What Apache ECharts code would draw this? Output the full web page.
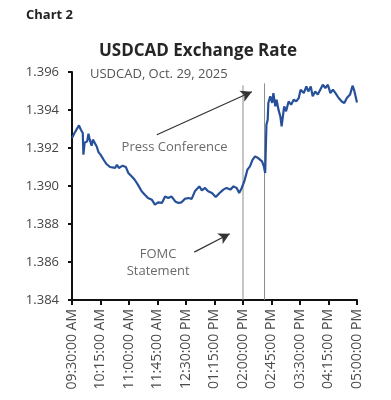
<!DOCTYPE html>
<html><head><meta charset="utf-8">
<script src="https://cdn.jsdelivr.net/npm/echarts@6/dist/echarts.min.js"></script>
<style>html,body{margin:0;padding:0;background:#fff}#c{width:391px;height:400px}</style>
</head><body><div id="c"></div>
<script>
// minutes after 09:30 AM
const times = [0,4,11,14,17,18,20,24,26,28,31,33,36,39,42,45,50,54,60,68,71,74,80,85,89,94,99,104,110,115,120,126,131,136,142,147,152,157,163,168,173,178,184,189,194,201,205,210,215,221,227,233,239,244,250,255,260,264,268,272,277,281,285,289,294,300,303,305,307,309,310,313,316,318,321,323,326,329,331,335,338,342,346,350,354,358,361,366,370,373,377,380,384,388,392,396,400,404,408,412,416,421,426,430,434,439,443,446,449,450];
const rates = [1.39253,1.39279,1.39319,1.39296,1.39279,1.39165,1.39228,1.39235,1.39275,1.39244,1.39212,1.39244,1.39235,1.39208,1.39177,1.39165,1.39138,1.39117,1.39100,1.39095,1.39112,1.39095,1.39107,1.39100,1.39068,1.39051,1.39033,1.39007,1.38972,1.38954,1.38937,1.38928,1.38902,1.38914,1.38911,1.38945,1.38937,1.38945,1.38919,1.38911,1.38914,1.38932,1.38937,1.38932,1.38972,1.38998,1.38977,1.38990,1.38972,1.38963,1.38942,1.38963,1.38981,1.38990,1.38981,1.38998,1.38990,1.38963,1.38990,1.39024,1.39086,1.39103,1.39138,1.39156,1.39147,1.39130,1.39103,1.39068,1.39323,1.39349,1.39437,1.39472,1.39437,1.39489,1.39419,1.39454,1.39402,1.39366,1.39314,1.39419,1.39393,1.39445,1.39428,1.39454,1.39445,1.39463,1.39507,1.39489,1.39524,1.39498,1.39524,1.39472,1.39498,1.39481,1.39507,1.39533,1.39516,1.39533,1.39489,1.39507,1.39489,1.39463,1.39445,1.39437,1.39463,1.39481,1.39528,1.39498,1.39489,1.39440];
const tickLabels = ['09:30:00 AM','10:15:00 AM','11:00:00 AM','11:45:00 AM','12:30:00 PM','01:15:00 PM','02:00:00 PM','02:45:00 PM','03:30:00 PM','04:15:00 PM','05:00:00 PM'];
const eventTimes = [270, 304];          // FOMC statement, press conference
const eventTops = [1.3953, 1.3954];
const pressArrow = [[134, 1.3927], [284, 1.39496]];
const fomcArrow = [[193, 1.38652], [249, 1.38749]];
const pressLabelPos = [162, 1.39202];
const fomcLabelPos = [136, 1.38595];

const FONT = 'Open Sans';
const chart = echarts.init(document.getElementById('c'));
const vlineSeries = eventTimes.map((t, i) => ({
  type: 'line', data: [[t, eventTops[i]], [t, 1.384]], symbol: 'none', silent: true,
  lineStyle: { color: '#8c8c8c', width: 1 }, z: 1
}));
chart.setOption({
  animation: false,
  backgroundColor: '#fff',
  title: [
    { text: 'Chart 2', left: 21, top: 4, textStyle: { fontFamily: FONT, fontSize: 13, fontWeight: 'bold', color: '#222' } },
    { text: 'USDCAD Exchange Rate', left: 193, textAlign: 'center', top: 38, textStyle: { fontFamily: FONT, fontSize: 17, fontWeight: 'bold', color: '#262626' } },
    { text: 'USDCAD, Oct. 29, 2025', left: 85, top: 63, textStyle: { fontFamily: FONT, fontSize: 13, fontWeight: 'normal', color: '#555' } }
  ],
  grid: { left: 72, right: 34, top: 72, bottom: 100, containLabel: false },
  xAxis: {
    type: 'value', min: 0, max: 450, interval: 45,
    axisLine: { show: true, lineStyle: { color: '#111', width: 2 } },
    axisTick: { show: true, length: 5, lineStyle: { color: '#111', width: 2 } },
    splitLine: { show: false },
    axisLabel: { rotate: 90, margin: 9, fontFamily: FONT, fontSize: 14, color: '#4a4a4a',
      formatter: v => tickLabels[Math.round(v / 45)] }
  },
  yAxis: {
    type: 'value', min: 1.384, max: 1.396, interval: 0.002,
    axisLine: { show: true, lineStyle: { color: '#111', width: 2 } },
    axisTick: { show: true, length: 4, lineStyle: { color: '#111', width: 2 } },
    splitLine: { show: false },
    axisLabel: { margin: 13, fontFamily: FONT, fontSize: 13, color: '#444', formatter: v => v.toFixed(3) }
  },
  series: [
    ...vlineSeries,
    {
      type: 'line', data: times.map((t, i) => [t, rates[i]]), symbol: 'none', z: 3,
      lineStyle: { color: '#26509a', width: 2.2 },
      markLine: {
        silent: true, symbol: ['none', 'arrow'], symbolSize: [9, 11],
        lineStyle: { color: '#333', width: 1.2, type: 'solid' }, label: { show: false },
        data: [
          [{ coord: pressArrow[0] }, { coord: pressArrow[1] }],
          [{ coord: fomcArrow[0] }, { coord: fomcArrow[1] }]
        ]
      }
    },
    {
      type: 'scatter', symbolSize: 0, silent: true,
      data: [
        { value: pressLabelPos, label: { formatter: 'Press Conference' } },
        { value: fomcLabelPos, label: { formatter: 'FOMC\nStatement', lineHeight: 17 } }
      ],
      label: { show: true, position: 'inside', fontFamily: FONT, fontSize: 13, color: '#444', align: 'center', verticalAlign: 'middle' }
    }
  ]
});
</script></body></html>
